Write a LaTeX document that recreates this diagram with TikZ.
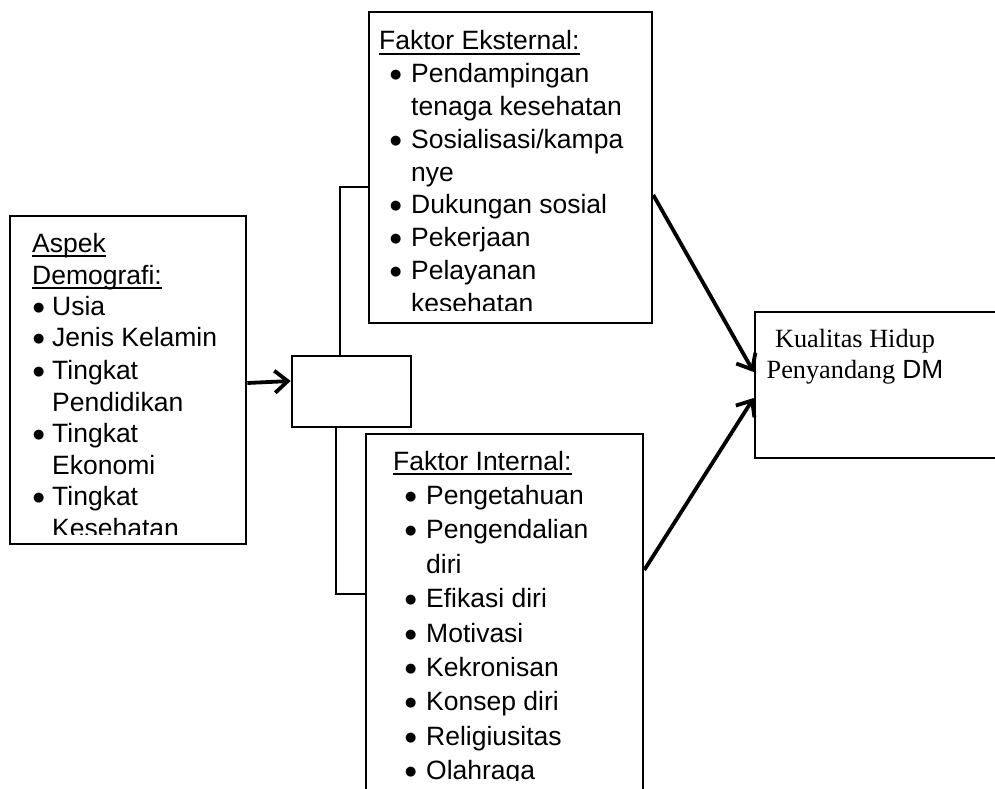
\documentclass[tikz,border=0pt]{standalone}
\usepackage{fontspec}
\setmainfont{Liberation Sans}
\newfontfamily\serifface{Liberation Serif}
\newfontfamily\dejavu{DejaVu Sans}
\usetikzlibrary{arrows.meta}
\newcommand\bul[1]{\makebox[#1][l]{\raisebox{3.9pt}{\dejavu\fontsize{13}{13}\selectfont ●}}}
\begin{document}
\begin{tikzpicture}[x=1pt,y=-1pt,
  box/.style={draw, line width=2.6pt, inner sep=0pt},
  thinline/.style={line width=1.2pt},
  arr/.style={line width=3.8pt, -{Straight Barb[length=13pt,width=22pt]}},
  txt/.style={inner sep=0pt, anchor=base west, font=\fontsize{26.5}{30}\selectfont},
  ctxt/.style={inner sep=0pt, anchor=base, font=\fontsize{26.3}{30}\selectfont},
  ul/.style={line width=2pt}]
\useasboundingbox (0,0) rectangle (995,789);

% boxes
\node[box, minimum width=236pt, minimum height=328pt] (aspek) at (128,380) {};
\node[box, minimum width=119pt, minimum height=71pt] (mid) at (351.5,391.5) {};
\node[box, minimum width=283pt, minimum height=311pt] (ext) at (510.5,167.5) {};
\node[box, minimum width=277pt, minimum height=366pt] (int) at (504.5,617) {};
\node[box, minimum width=245pt, minimum height=146pt] (kual) at (877.5,385) {};

% brackets
\coordinate (eb) at (340,187);
\draw[thinline] (ext.west |- eb) -- (eb) -- (eb |- mid.north);
\coordinate (ib) at (336,594);
\draw[thinline] (int.west |- ib) -- (ib) -- (ib |- mid.south);

% arrows
\draw[arr] ([yshift=-3pt]aspek.east) -- ([yshift=10.5pt]mid.west);
\draw[arr] ([yshift=-27.5pt]ext.east) -- ([yshift=13pt]kual.west);
\draw[arr] ([yshift=47pt]int.east) -- ([yshift=-13pt]kual.west);

% Aspek text
\begin{scope}
\clip (14,220) rectangle (242,534);
\node[txt] (a1) at (32,252) {Aspek};
\node[txt] (a2) at (32,284) {Demografi:};
\node[txt] (a3) at (33,315) {\bul{19pt}Usia};
\node[txt] (a4) at (33,346) {\bul{19pt}Jenis Kelamin};
\node[txt] (a5) at (33,379) {\bul{19pt}Tingkat};
\node[txt] (a6) at (52,411) {Pendidikan};
\node[txt] (a7) at (33,442) {\bul{19pt}Tingkat};
\node[txt] (a8) at (52,474) {Ekonomi};
\node[txt] (a9) at (33,505) {\bul{19pt}Tingkat};
\node[txt] (a10) at (52,537) {Kesehatan};
\end{scope}
\draw[ul] ([yshift=-4pt]a1.base west) -- ([yshift=-4pt]a1.base east);
\draw[ul] ([yshift=-4pt]a2.base west) -- ([yshift=-4pt]a2.base east);

% Eksternal text
\begin{scope}
\clip (372,15) rectangle (648,310);
\node[txt] (e1) at (379,50) {Faktor Eksternal:};
\node[txt] (e2) at (390,82.75) {\bul{21pt}Pendampingan};
\node[txt] (e3) at (411,115.5) {tenaga kesehatan};
\node[txt] (e4) at (390,148.25) {\bul{21pt}Sosialisasi/kampa};
\node[txt] (e5) at (411,181) {nye};
\node[txt] (e6) at (390,213.75) {\bul{21pt}Dukungan sosial};
\node[txt] (e7) at (390,246.5) {\bul{21pt}Pekerjaan};
\node[txt] (e8) at (390,279.25) {\bul{21pt}Pelayanan};
\node[txt] (e9) at (411,312) {kesehatan};
\end{scope}
\draw[ul] ([yshift=-4pt]e1.base west) -- ([yshift=-4pt]e1.base east);

% Internal text
\begin{scope}
\clip (369,437) rectangle (640,780);
\node[txt] (i1) at (393,470) {Faktor Internal:};
\node[txt] (i2) at (405,504.4) {\bul{21pt}Pengetahuan};
\node[txt] (i3) at (405,538.8) {\bul{21pt}Pengendalian};
\node[txt] (i4) at (426,573.2) {diri};
\node[txt] (i5) at (405,607.6) {\bul{21pt}Efikasi diri};
\node[txt] (i6) at (405,642) {\bul{21pt}Motivasi};
\node[txt] (i7) at (405,676.4) {\bul{21pt}Kekronisan};
\node[txt] (i8) at (405,710.8) {\bul{21pt}Konsep diri};
\node[txt] (i9) at (405,745.2) {\bul{21pt}Religiusitas};
\node[txt] (i10) at (405,779.6) {\bul{21pt}Olahraga};
\end{scope}
\draw[ul] ([yshift=-4pt]i1.base west) -- ([yshift=-4pt]i1.base east);

% Kualitas text
\node[ctxt] (k1) at (855,347) {\serifface Kualitas Hidup};
\node[ctxt] (k2) at (855,378) {{\serifface Penyandang} DM};
\end{tikzpicture}
\end{document}
